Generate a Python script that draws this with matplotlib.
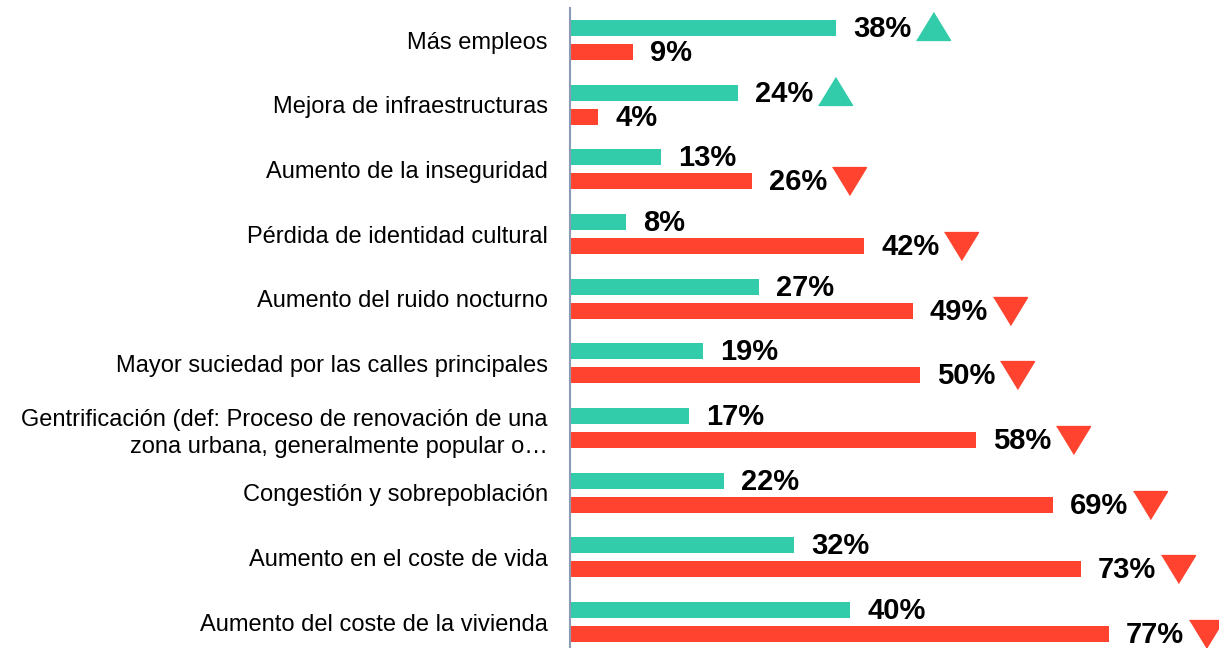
import matplotlib.pyplot as plt
from matplotlib import transforms

categories = [
    "Más empleos",
    "Mejora de infraestructuras",
    "Aumento de la inseguridad",
    "Pérdida de identidad cultural",
    "Aumento del ruido nocturno",
    "Mayor suciedad por las calles principales",
    "Gentrificación (def: Proceso de renovación de una\nzona urbana, generalmente popular o…",
    "Congestión y sobrepoblación",
    "Aumento en el coste de vida",
    "Aumento del coste de la vivienda",
]
positivo = [38, 24, 13, 8, 27, 19, 17, 22, 32, 40]  # teal
negativo = [9, 4, 26, 42, 49, 50, 58, 69, 73, 77]   # red
# which bar gets the arrow: 'up' on teal, 'down' on red
flecha = ["up", "up", "down", "down", "down", "down", "down", "down", "down", "down"]

teal = "#33CCAA"
red = "#FF432E"

plt.rcParams['font.family'] = ['Liberation Sans', 'DejaVu Sans']

fig = plt.figure(figsize=(12.19, 6.48), dpi=100)
x0 = 570 / 1219
ax = fig.add_axes([x0, 0, 1 - x0, 640 / 648])

ypos = list(range(len(categories)))
h = 0.247
off = 0.185
ax.barh([y - off for y in ypos], positivo, height=h, color=teal)
ax.barh([y + off for y in ypos], negativo, height=h, color=red)

ax.set_xlim(0, 649 / 7.0)
ax.set_ylim(9.40, -0.495)

lab_tr = transforms.offset_copy(ax.transData, fig=fig, x=17, y=-1, units='dots')
tri_tr = transforms.offset_copy(ax.transData, fig=fig, x=97, y=0, units='dots')
up = [(-1, -0.82), (1, -0.82), (0, 0.82)]
down = [(-1, 0.82), (1, 0.82), (0, -0.82)]

for i in ypos:
    ax.text(positivo[i], i - off, f"{positivo[i]}%", transform=lab_tr,
            ha='left', va='center', fontsize=21, fontweight='bold')
    ax.text(negativo[i], i + off, f"{negativo[i]}%", transform=lab_tr,
            ha='left', va='center', fontsize=21, fontweight='bold')
    if flecha[i] == "up":
        ax.plot(positivo[i], i - off - 0.03, marker=up, markersize=24.5,
                color=teal, transform=tri_tr, clip_on=False)
    else:
        ax.plot(negativo[i], i + off, marker=down, markersize=24.5,
                color=red, transform=tri_tr, clip_on=False)

ax.set_yticks(ypos)
ax.set_yticklabels(categories, fontsize=17, linespacing=1.3)
ax.tick_params(axis='y', length=0, pad=16)
ax.set_xticks([])
for s in ['top', 'right', 'bottom']:
    ax.spines[s].set_visible(False)
ax.spines['left'].set_color('#8C9BB5')
ax.spines['left'].set_linewidth(1.5)

fig.savefig("out.png", dpi=100)
